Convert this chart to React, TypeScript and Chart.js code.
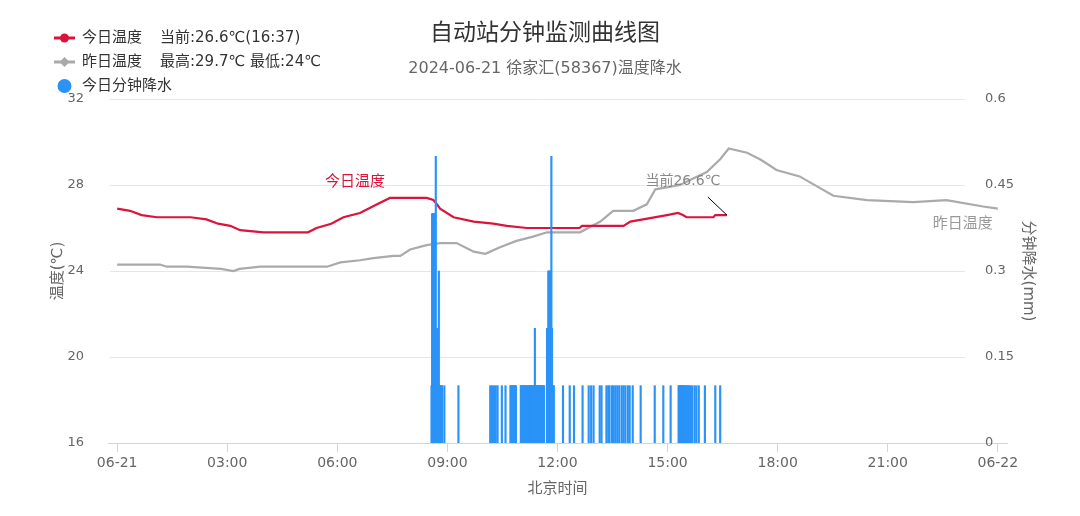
import React, { useEffect, useRef } from 'react';
import { Chart, registerables } from 'chart.js';

Chart.register(...registerables);

const FONT = '"DejaVu Sans", "Noto Sans CJK SC", sans-serif';
const CJK = '"Noto Sans CJK SC", "DejaVu Sans", sans-serif';

// ---- data ----
const titleText = '自动站分钟监测曲线图';
const subtitleText = '2024-06-21 徐家汇(58367)温度降水';
const xTickMinutes = [0, 180, 360, 540, 720, 900, 1080, 1260, 1440];
const xTickLabels = ['06-21', '03:00', '06:00', '09:00', '12:00', '15:00', '18:00', '21:00', '06-22'];
const tempTicks = [16, 20, 24, 28, 32];
const rainTicks = [0, 0.15, 0.3, 0.45, 0.6];

// [minute of day, °C]
const todayTemp: [number, number][] = [
  [0, 26.9], [21, 26.8], [40, 26.6], [65, 26.5], [120, 26.5], [146, 26.4], [165, 26.2],
  [185, 26.1], [201, 25.9], [239, 25.8], [312, 25.8], [326, 26.0], [350, 26.2], [370, 26.5],
  [397, 26.7], [425, 27.1], [446, 27.4], [506, 27.4], [517, 27.3], [523, 27.1], [528, 26.9],
  [550, 26.5], [583, 26.3], [615, 26.2], [637, 26.1], [670, 26.0], [756, 26.0], [760, 26.1],
  [828, 26.1], [839, 26.3], [860, 26.4], [899, 26.6], [917, 26.7], [925, 26.6], [931, 26.5],
  [975, 26.5], [978, 26.6], [997, 26.6],
];

const yesterdayTemp: [number, number][] = [
  [0, 24.3], [70, 24.3], [81, 24.2], [114, 24.2], [170, 24.1], [190, 24.0], [200, 24.1],
  [234, 24.2], [343, 24.2], [365, 24.4], [397, 24.5], [419, 24.6], [452, 24.7], [463, 24.7],
  [479, 25.0], [506, 25.2], [528, 25.3], [555, 25.3], [583, 24.9], [602, 24.8], [626, 25.1],
  [653, 25.4], [680, 25.6], [703, 25.8], [757, 25.8], [790, 26.3], [811, 26.8], [844, 26.8],
  [866, 27.1], [880, 27.8], [920, 28.0], [964, 28.6], [986, 29.2], [1000, 29.7], [1030, 29.5],
  [1051, 29.2], [1062, 29.0], [1078, 28.7], [1116, 28.4], [1171, 27.5], [1226, 27.3],
  [1302, 27.2], [1356, 27.3], [1416, 27.0], [1440, 26.9],
];

// [minute of day, mm]
const rainPoints: [number, number][] = [
  [514, 0.1], [515, 0.4], [516, 0.4], [517, 0.4], [518, 0.4], [519, 0.4], [520, 0.2], [521, 0.5],
  [522, 0.2], [523, 0.2], [524, 0.2], [525, 0.1], [526, 0.3], [527, 0.1], [528, 0.1], [529, 0.1],
  [530, 0.1], [531, 0.1], [535, 0.1], [558, 0.1],
  [610, 0.1], [613, 0.1], [616, 0.1], [619, 0.1], [622, 0.1], [629, 0.1], [635, 0.1],
  [643, 0.1], [644, 0.1], [645, 0.1], [646, 0.1], [647, 0.1], [648, 0.1], [649, 0.1], [650, 0.1],
  [651, 0.1], [652, 0.1],
  [660, 0.1], [661, 0.1], [662, 0.1], [663, 0.1], [665, 0.1], [666, 0.1], [667, 0.1], [668, 0.1],
  [669, 0.1], [670, 0.1], [672, 0.1], [673, 0.1], [674, 0.1], [675, 0.1], [676, 0.1], [677, 0.1],
  [678, 0.1], [679, 0.1], [680, 0.1], [681, 0.1], [682, 0.1], [683, 0.2], [684, 0.1], [685, 0.1],
  [686, 0.1], [687, 0.1], [688, 0.1], [689, 0.1], [690, 0.1], [691, 0.1], [692, 0.1], [693, 0.1],
  [694, 0.1], [695, 0.1], [696, 0.1], [697, 0.1], [698, 0.1],
  [703, 0.2], [704, 0.2], [705, 0.3], [706, 0.3], [707, 0.3], [708, 0.3], [709, 0.2], [710, 0.5],
  [711, 0.2], [712, 0.1], [713, 0.1], [714, 0.1],
  [729, 0.1], [740, 0.1], [747, 0.1], [761, 0.1], [771, 0.1], [775, 0.1], [779, 0.1], [789, 0.1],
  [792, 0.1], [800, 0.1], [803, 0.1], [805, 0.1], [809, 0.1], [812, 0.1], [815, 0.1], [818, 0.1],
  [821, 0.1], [825, 0.1], [828, 0.1], [831, 0.1], [835, 0.1], [838, 0.1], [843, 0.1], [856, 0.1],
  [879, 0.1], [893, 0.1], [905, 0.1],
  [918, 0.1], [919, 0.1], [920, 0.1], [921, 0.1], [922, 0.1], [923, 0.1], [924, 0.1], [925, 0.1],
  [926, 0.1], [928, 0.1], [929, 0.1], [930, 0.1], [931, 0.1], [933, 0.1], [935, 0.1], [937, 0.1],
  [940, 0.1], [944, 0.1], [947, 0.1], [951, 0.1], [961, 0.1], [978, 0.1], [986, 0.1],
];

// label anchors in data units [minute, °C]
const todayLabelAt: [number, number] = [389, 28.2];
const yesterdayLabelAt: [number, number] = [1440, 26.25];

const RED = '#dc143c';
const GREY = '#aaaaaa';
const BLUE = '#2b93f7';

const fmt = (v: number) => String(Number(v.toFixed(2)));
const hhmm = (m: number) => {
  const h = Math.floor(m / 60);
  const mm = Math.round(m - h * 60);
  return `${String(h).padStart(2, '0')}:${String(mm).padStart(2, '0')}`;
};

const decor = {
  id: 'decor',
  beforeDatasetsDraw(chart: any) {
    const { ctx, chartArea, scales } = chart;
    const y = scales.y;
    ctx.save();
    ctx.strokeStyle = '#e6e6e6';
    ctx.lineWidth = 1;
    y.ticks.forEach((t: any) => {
      if (t.value === y.min) return;
      const py = Math.round(y.getPixelForValue(t.value)) + 0.5;
      ctx.beginPath();
      ctx.moveTo(chartArea.left + 2, py);
      ctx.lineTo(chartArea.right - 42, py);
      ctx.stroke();
    });
    ctx.restore();
  },
  afterDatasetsDraw(chart: any) {
    const { ctx, scales, chartArea } = chart;
    const { x, y, y1 } = scales;
    const last = todayTemp[todayTemp.length - 1];
    const px = x.getPixelForValue(last[0]);
    const py = y.getPixelForValue(last[1]);
    ctx.save();
    ctx.strokeStyle = '#000';
    ctx.lineWidth = 1;
    ctx.beginPath();
    ctx.moveTo(px - 19, py - 18);
    ctx.lineTo(px, py);
    ctx.stroke();
    ctx.font = `14px ${FONT}`;
    ctx.textBaseline = 'middle';
    ctx.textAlign = 'center';
    ctx.fillStyle = '#888';
    ctx.fillText(`当前${last[1].toFixed(1)}℃`, px - 44, py - 34);

    ctx.font = `15px ${CJK}`;
    ctx.fillStyle = RED;
    ctx.fillText('今日温度', x.getPixelForValue(todayLabelAt[0]), y.getPixelForValue(todayLabelAt[1]));
    ctx.fillStyle = '#999';
    ctx.textAlign = 'right';
    ctx.fillText('昨日温度', x.getPixelForValue(yesterdayLabelAt[0]) - 5, y.getPixelForValue(yesterdayLabelAt[1]));

    // right axis tick labels (drawn inside the plot edge, as in the source)
    ctx.font = `13px ${FONT}`;
    ctx.fillStyle = '#666';
    ctx.textAlign = 'left';
    y1.ticks.forEach((t: any) => {
      ctx.fillText(fmt(t.value), chartArea.right - 22, y1.getPixelForValue(t.value));
    });
    ctx.restore();
  },
  afterDraw(chart: any) {
    const { ctx } = chart;
    ctx.save();
    ctx.textBaseline = 'middle';
    ctx.textAlign = 'center';
    ctx.fillStyle = '#333';
    ctx.font = `23px ${CJK}`;
    ctx.fillText(titleText, 545, 31);
    ctx.fillStyle = '#666';
    ctx.font = `16px ${FONT}`;
    ctx.fillText(subtitleText, 545, 69);

    // legend
    ctx.textAlign = 'left';
    ctx.font = `15px ${FONT}`;
    const last = todayTemp[todayTemp.length - 1];
    const yTemps = yesterdayTemp.map((p) => p[1]);
    const maxY = Math.max(...yTemps);
    const minY = Math.min(...yTemps);
    // row 1
    ctx.strokeStyle = RED;
    ctx.lineWidth = 3;
    ctx.beginPath();
    ctx.moveTo(54, 38);
    ctx.lineTo(75, 38);
    ctx.stroke();
    ctx.fillStyle = RED;
    ctx.beginPath();
    ctx.arc(64.5, 38, 4.5, 0, Math.PI * 2);
    ctx.fill();
    ctx.fillStyle = '#333';
    ctx.fillText('今日温度', 82, 38);
    ctx.fillText(`当前:${last[1].toFixed(1)}℃(${hhmm(last[0])})`, 160, 38);
    // row 2
    ctx.strokeStyle = GREY;
    ctx.beginPath();
    ctx.moveTo(54, 62);
    ctx.lineTo(75, 62);
    ctx.stroke();
    ctx.fillStyle = GREY;
    ctx.beginPath();
    ctx.moveTo(64.5, 57);
    ctx.lineTo(69.5, 62);
    ctx.lineTo(64.5, 67);
    ctx.lineTo(59.5, 62);
    ctx.closePath();
    ctx.fill();
    ctx.fillStyle = '#333';
    ctx.fillText('昨日温度', 82, 62);
    ctx.fillText(`最高:${fmt(maxY)}℃ 最低:${fmt(minY)}℃`, 160, 62);
    // row 3
    ctx.fillStyle = BLUE;
    ctx.beginPath();
    ctx.arc(64.5, 86, 7, 0, Math.PI * 2);
    ctx.fill();
    ctx.fillStyle = '#333';
    ctx.fillText('今日分钟降水', 82, 86);
    ctx.restore();
  },
};

export default function App() {
  const ref = useRef<HTMLCanvasElement | null>(null);

  useEffect(() => {
    if (!ref.current) return;
    const chart = new Chart(ref.current, {
      type: 'bar',
      data: {
        datasets: [
          {
            type: 'bar',
            label: '今日分钟降水',
            data: rainPoints.map(([m, v]) => ({ x: m, y: v })),
            yAxisID: 'y1',
            backgroundColor: BLUE,
            barThickness: 1.5,
            order: 0,
          } as any,
          {
            type: 'line',
            label: '今日温度',
            data: todayTemp.map(([m, v]) => ({ x: m, y: v })),
            yAxisID: 'y',
            borderColor: RED,
            backgroundColor: RED,
            borderWidth: 2.2,
            pointRadius: 0,
            tension: 0,
            order: 1,
          } as any,
          {
            type: 'line',
            label: '昨日温度',
            data: yesterdayTemp.map(([m, v]) => ({ x: m, y: v })),
            yAxisID: 'y',
            borderColor: GREY,
            backgroundColor: GREY,
            borderWidth: 2.2,
            pointRadius: 0,
            tension: 0,
            order: 2,
          } as any,
        ],
      },
      options: {
        animation: false,
        responsive: false,
        maintainAspectRatio: false,
        layout: { padding: { top: 99, left: 0, right: 0, bottom: 0 } },
        plugins: {
          legend: { display: false },
          tooltip: { enabled: false },
          title: { display: false },
        },
        scales: {
          x: {
            type: 'linear',
            offset: false,
            min: -15,
            max: 1455,
            afterBuildTicks: (s: any) => {
              s.ticks = xTickMinutes.map((v) => ({ value: v }));
            },
            afterFit: (s: any) => {
              s.height = 73;
            },
            grid: {
              display: true,
              offset: false,
              drawOnChartArea: false,
              drawTicks: true,
              tickLength: 9,
              color: '#ccd6eb',
            },
            border: { display: true, color: '#ccd6eb' },
            ticks: {
              autoSkip: false,
              maxRotation: 0,
              padding: 3,
              color: '#666',
              font: { size: 14, family: FONT },
              callback: (v: any) => {
                const i = xTickMinutes.indexOf(Number(v));
                return i >= 0 ? xTickLabels[i] : '';
              },
            },
            title: {
              display: true,
              text: '北京时间',
              color: '#666',
              font: { size: 15, family: FONT },
              padding: { top: 0, bottom: 18 },
            },
          },
          y: {
            type: 'linear',
            position: 'left',
            min: 16,
            max: 32,
            afterBuildTicks: (s: any) => {
              s.ticks = tempTicks.map((v) => ({ value: v }));
            },
            afterFit: (s: any) => {
              s.width = 108;
            },
            grid: { display: false },
            border: { display: false },
            ticks: {
              padding: 16,
              color: '#666',
              font: { size: 13, family: FONT },
            },
            title: {
              display: true,
              text: '温度(℃)',
              color: '#666',
              font: { size: 15, family: FONT },
              padding: { top: 49, bottom: 0 },
            },
          },
          y1: {
            type: 'linear',
            position: 'right',
            min: 0,
            max: 0.6,
            afterBuildTicks: (s: any) => {
              s.ticks = rainTicks.map((v) => ({ value: v }));
            },
            afterFit: (s: any) => {
              s.width = 73;
            },
            grid: { display: false },
            border: { display: false },
            ticks: { display: false },
            title: {
              display: true,
              text: '分钟降水(mm)',
              color: '#666',
              font: { size: 15, family: FONT },
              padding: { top: 43, bottom: 0 },
            },
          },
        },
      } as any,
      plugins: [decor],
    });
    return () => chart.destroy();
  }, []);

  return (
    <div style={{ position: 'fixed', left: 0, top: 0, width: 1080, height: 516, background: '#fff' }}>
      <canvas ref={ref} width={1080} height={516} style={{ width: 1080, height: 516, display: 'block' }} />
    </div>
  );
}
